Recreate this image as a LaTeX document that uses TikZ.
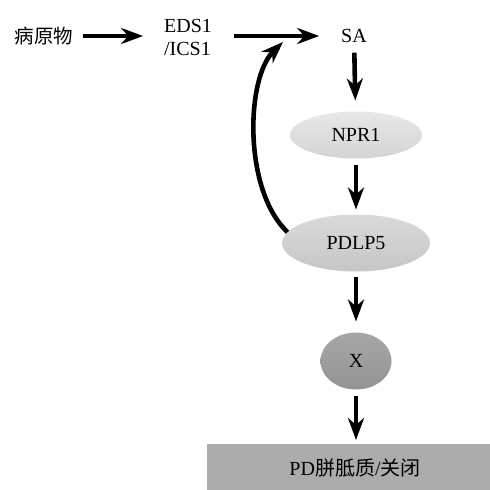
\documentclass[tikz,border=0pt]{standalone}
\usepackage{fontspec}
\setmainfont{Liberation Serif}
\newfontfamily\cjk{Noto Sans CJK SC}
\usetikzlibrary{shapes.geometric,arrows.meta}
\definecolor{nprA}{HTML}{E8E8E8}
\definecolor{nprB}{HTML}{D4D4D4}
\definecolor{pdA}{HTML}{DADADA}
\definecolor{pdB}{HTML}{C6C6C6}
\definecolor{xA}{HTML}{A6A6A6}
\definecolor{xB}{HTML}{949494}
\definecolor{boxgray}{HTML}{ACACAC}
\begin{document}
\begin{tikzpicture}[x=1pt,y=-1pt,
  font=\fontsize{20}{23}\selectfont,
  lbl/.style={inner sep=0pt, outer sep=0pt},
  oval/.style={ellipse, inner sep=0pt, outer sep=0pt},
  arr/.style={line width=4.6pt, -{Stealth[length=22pt,width=16pt,inset=7pt]}}]
\useasboundingbox (0,0) rectangle (490,490);
% nodes
\node[lbl] (path) at (44,36) {\fontsize{19.5}{23}\selectfont\cjk 病原物};
\node[lbl, align=left] (eds) at (188,37) {EDS1\\/ICS1};
\node[lbl] (sa) at (354,36) {SA};
\node[oval, minimum width=132pt, minimum height=47pt, top color=nprA, bottom color=nprB] (npr) at (356,135) {NPR1};
\node[oval, minimum width=148pt, minimum height=57pt, top color=pdA, bottom color=pdB] (pdlp) at (356,243) {PDLP5};
\node[oval, minimum width=71pt, minimum height=57pt, top color=xA, bottom color=xB] (x) at (356,361) {X};
\node[rectangle, fill=boxgray, inner sep=0pt, outer sep=0pt, minimum width=283pt, minimum height=46pt] (pd) at (348.5,467) {};
\node[lbl] (pdtext) at (355,468) {PD{\cjk 胼胝质}/{\cjk 关闭}};
\coordinate (tip) at (283,42);
% connectors
\draw[arr, shorten <=10pt, shorten >=21pt] (path) -- (eds.west |- path);
\draw[arr, shorten <=22pt, shorten >=22pt] (eds.east |- sa) -- (sa);
\draw[arr, shorten <=10pt, shorten >=11pt] (sa) -- (npr);
\draw[arr, shorten <=6pt, shorten >=5pt] (npr) -- (pdlp);
\draw[arr, shorten <=5pt, shorten >=11pt] (pdlp) -- (x);
\draw[arr, shorten <=6pt, shorten >=4pt] (x) -- (x |- pd.north);
\draw[arr] (pdlp.171) .. controls (243,190) and (246,78) .. (tip);
\end{tikzpicture}
\end{document}
